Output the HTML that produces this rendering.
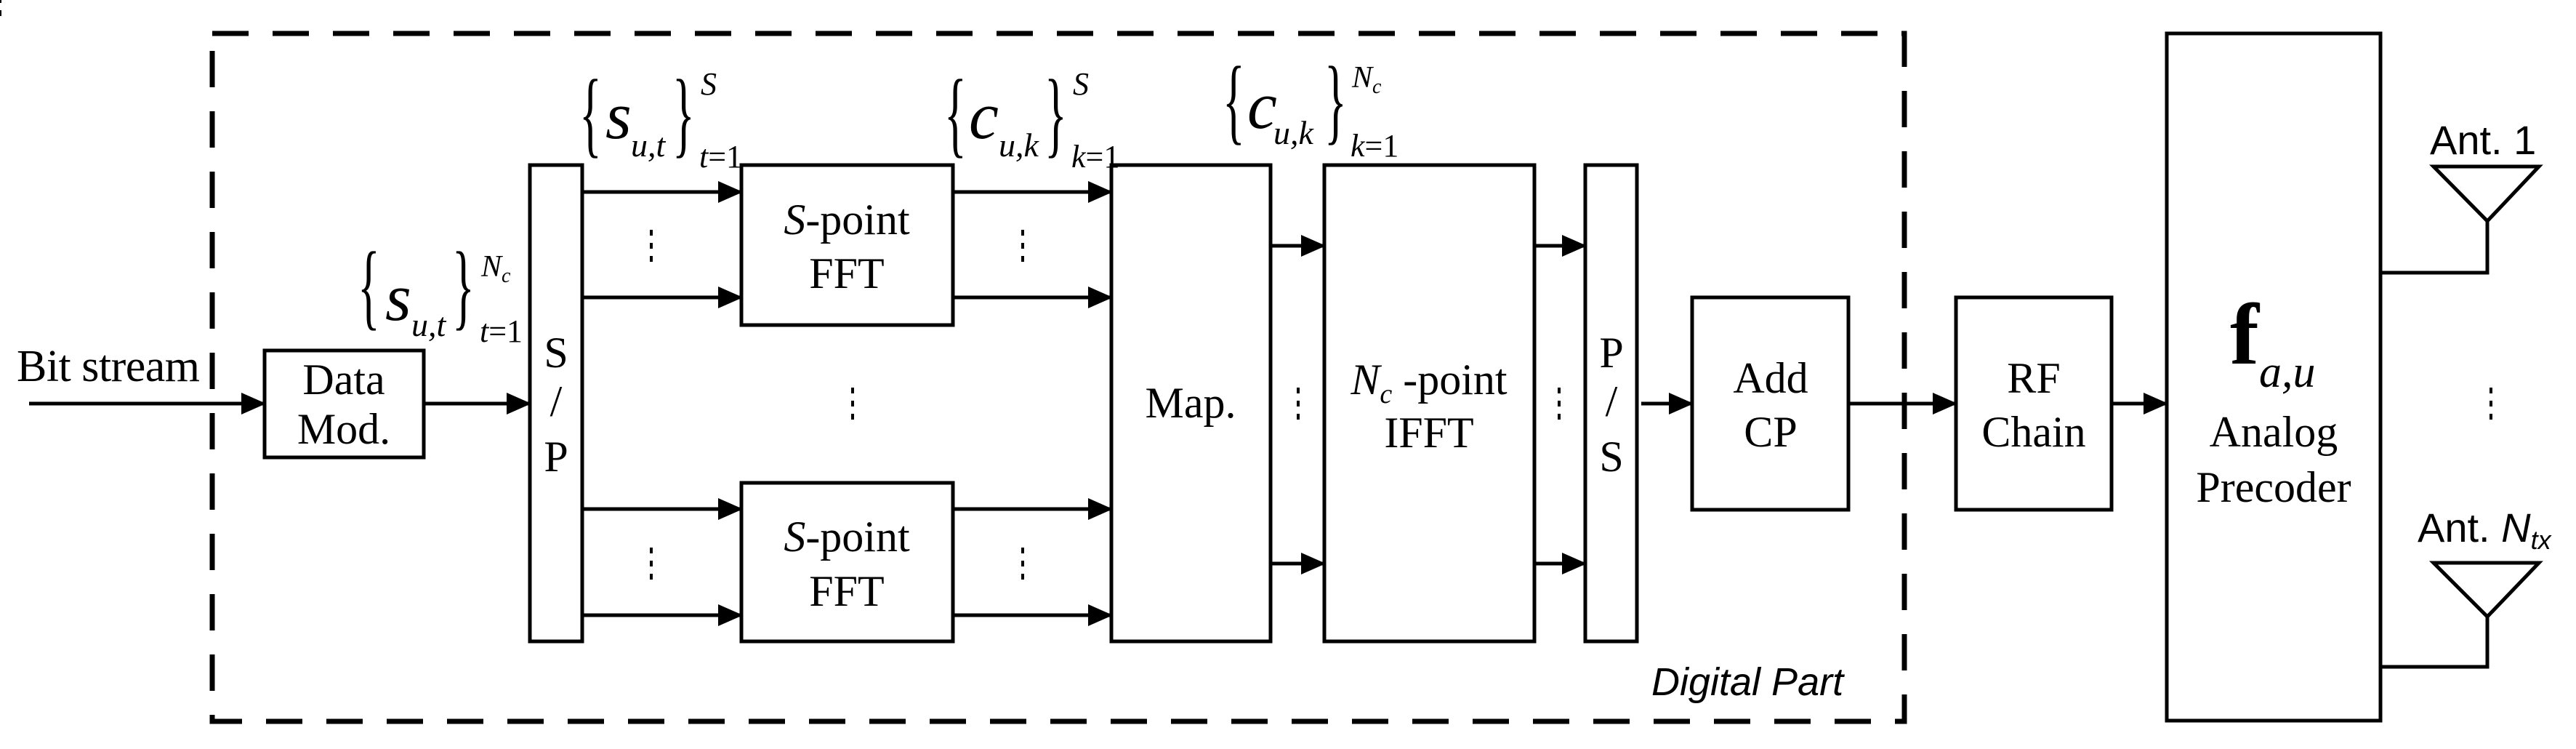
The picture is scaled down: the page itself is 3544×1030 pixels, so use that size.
<!DOCTYPE html>
<html><head><meta charset="utf-8"><style>
html,body{margin:0;padding:0;background:#fff}
svg{display:block}
text{font-family:"Liberation Serif",serif;fill:#000}
.sans{font-family:"Liberation Sans",sans-serif}
</style></head><body>
<svg width="3544" height="1030" viewBox="0 0 3544 1030" xmlns="http://www.w3.org/2000/svg">
<defs>
<marker id="ah" markerWidth="34" markerHeight="30" refX="32" refY="15" orient="auto" markerUnits="userSpaceOnUse">
<path d="M0,0 L34,15 L0,30 Z" fill="#000"/>
</marker>
</defs>
<g fill="none" stroke="#000" stroke-width="5">
<path d="M292,46 L2620,46 L2620,992 L292,992 Z" stroke-width="7" stroke-dasharray="50,33"/>
<rect x="364" y="482" width="219" height="147"/>
<rect x="729" y="227" width="72" height="655"/>
<rect x="1020" y="227" width="291" height="220"/>
<rect x="1020" y="664" width="291" height="218"/>
<rect x="1529" y="227" width="219" height="655"/>
<rect x="1822" y="227" width="289" height="655"/>
<rect x="2181" y="227" width="71" height="655"/>
<rect x="2328" y="409" width="215" height="292"/>
<rect x="2691" y="409" width="214" height="292"/>
<rect x="2981" y="46" width="294" height="945"/>
<line x1="40" y1="555" x2="364" y2="555" marker-end="url(#ah)"/>
<line x1="583" y1="555" x2="729" y2="555" marker-end="url(#ah)"/>
<line x1="801" y1="264" x2="1020" y2="264" marker-end="url(#ah)"/>
<line x1="801" y1="409" x2="1020" y2="409" marker-end="url(#ah)"/>
<line x1="801" y1="700" x2="1020" y2="700" marker-end="url(#ah)"/>
<line x1="801" y1="846" x2="1020" y2="846" marker-end="url(#ah)"/>
<line x1="1311" y1="264" x2="1529" y2="264" marker-end="url(#ah)"/>
<line x1="1311" y1="409" x2="1529" y2="409" marker-end="url(#ah)"/>
<line x1="1311" y1="700" x2="1529" y2="700" marker-end="url(#ah)"/>
<line x1="1311" y1="846" x2="1529" y2="846" marker-end="url(#ah)"/>
<line x1="1748" y1="338" x2="1822" y2="338" marker-end="url(#ah)"/>
<line x1="1748" y1="775" x2="1822" y2="775" marker-end="url(#ah)"/>
<line x1="2111" y1="338" x2="2181" y2="338" marker-end="url(#ah)"/>
<line x1="2111" y1="775" x2="2181" y2="775" marker-end="url(#ah)"/>
<line x1="2258" y1="555" x2="2328" y2="555" marker-end="url(#ah)"/>
<line x1="2543" y1="555" x2="2691" y2="555" marker-end="url(#ah)"/>
<line x1="2905" y1="555" x2="2981" y2="555" marker-end="url(#ah)"/>
<path d="M3275,375 L3422,375 L3422,304"/>
<path d="M3348,229 L3493,229 L3422,304 Z"/>
<path d="M3275,917 L3422,917 L3422,848"/>
<path d="M3348,774 L3493,774 L3422,848 Z"/>
</g>
<g fill="#000">
<g id="vd"><rect x="-2" y="-22" width="4" height="8"/><rect x="-2" y="-4" width="4" height="8"/><rect x="-2" y="14" width="4" height="8"/></g>
<use href="#vd" x="896" y="338"/>
<use href="#vd" x="1407" y="338"/>
<use href="#vd" x="896" y="775"/>
<use href="#vd" x="1407" y="775"/>
<use href="#vd" x="1173" y="555"/>
<use href="#vd" x="1786" y="555"/>
<use href="#vd" x="2145" y="555"/>
<use href="#vd" x="3427" y="555"/>
</g>
<text x="23" y="524" font-size="62" textLength="252">Bit stream</text>
<text x="473" y="542" font-size="60" text-anchor="middle">Data</text>
<text x="473" y="610" font-size="60" text-anchor="middle">Mod.</text>
<text x="765" y="505" font-size="60" text-anchor="middle">S</text>
<text x="765" y="572" font-size="60" text-anchor="middle">/</text>
<text x="765" y="648" font-size="60" text-anchor="middle">P</text>
<text x="1165" y="322" font-size="60" text-anchor="middle"><tspan font-style="italic">S</tspan>-point</text>
<text x="1165" y="396" font-size="60" text-anchor="middle">FFT</text>
<text x="1165" y="758" font-size="60" text-anchor="middle"><tspan font-style="italic">S</tspan>-point</text>
<text x="1165" y="833" font-size="60" text-anchor="middle">FFT</text>
<text x="1638" y="574" font-size="60" text-anchor="middle">Map.</text>
<text x="1966" y="542" font-size="60" text-anchor="middle"><tspan font-style="italic">N</tspan><tspan font-style="italic" font-size="38" dy="12">c</tspan><tspan dy="-12"> -point</tspan></text>
<text x="1966" y="615" font-size="60" text-anchor="middle">IFFT</text>
<text x="2217" y="505" font-size="60" text-anchor="middle">P</text>
<text x="2217" y="572" font-size="60" text-anchor="middle">/</text>
<text x="2217" y="648" font-size="60" text-anchor="middle">S</text>
<text x="2436" y="540" font-size="60" text-anchor="middle">Add</text>
<text x="2436" y="614" font-size="60" text-anchor="middle">CP</text>
<text x="2798" y="540" font-size="60" text-anchor="middle">RF</text>
<text x="2798" y="614" font-size="60" text-anchor="middle">Chain</text>
<text x="3068" y="500" font-size="120" font-weight="bold">f</text>
<text x="3108" y="532" font-size="62" font-style="italic">a,u</text>
<text x="3128" y="614" font-size="60" text-anchor="middle">Analog</text>
<text x="3128" y="690" font-size="60" text-anchor="middle">Precoder</text>
<text class="sans" x="2272" y="956" font-size="54" font-style="italic">Digital Part</text>
<text class="sans" x="3343" y="212" font-size="56">Ant. 1</text>
<text class="sans" x="3326" y="745" font-size="56">Ant. <tspan font-style="italic">N</tspan><tspan font-style="italic" font-size="36" dy="10">tx</tspan></text>
<g font-style="italic">
<!-- A -->
<text transform="translate(492,437) scale(0.8,1.65)" font-size="80" font-style="normal">{</text>
<text x="530" y="440" font-size="92">s</text>
<text x="566" y="462" font-size="46">u,t</text>
<text transform="translate(622,437) scale(0.8,1.65)" font-size="80" font-style="normal">}</text>
<text x="662" y="380" font-size="42">N<tspan font-size="28" dy="8">c</tspan></text>
<text x="660" y="470" font-size="44">t<tspan font-style="normal">=1</tspan></text>
<!-- B -->
<text transform="translate(797,200) scale(0.8,1.65)" font-size="80" font-style="normal">{</text>
<text x="833" y="190" font-size="92">s</text>
<text x="868" y="215" font-size="46">u,t</text>
<text transform="translate(925,200) scale(0.8,1.65)" font-size="80" font-style="normal">}</text>
<text x="964" y="130" font-size="44">S</text>
<text x="962" y="230" font-size="44">t<tspan font-style="normal">=1</tspan></text>
<!-- C -->
<text transform="translate(1299,200) scale(0.8,1.65)" font-size="80" font-style="normal">{</text>
<text x="1333" y="190" font-size="92">c</text>
<text x="1374" y="215" font-size="46">u,k</text>
<text transform="translate(1437,200) scale(0.8,1.65)" font-size="80" font-style="normal">}</text>
<text x="1476" y="130" font-size="44">S</text>
<text x="1474" y="230" font-size="44">k<tspan font-style="normal">=1</tspan></text>
<!-- D -->
<text transform="translate(1682,182) scale(0.8,1.65)" font-size="80" font-style="normal">{</text>
<text x="1716" y="176" font-size="92">c</text>
<text x="1752" y="198" font-size="46">u,k</text>
<text transform="translate(1822,182) scale(0.8,1.65)" font-size="80" font-style="normal">}</text>
<text x="1860" y="120" font-size="42">N<tspan font-size="28" dy="8">c</tspan></text>
<text x="1858" y="215" font-size="44">k<tspan font-style="normal">=1</tspan></text>
</g>
</svg>
</body></html>
